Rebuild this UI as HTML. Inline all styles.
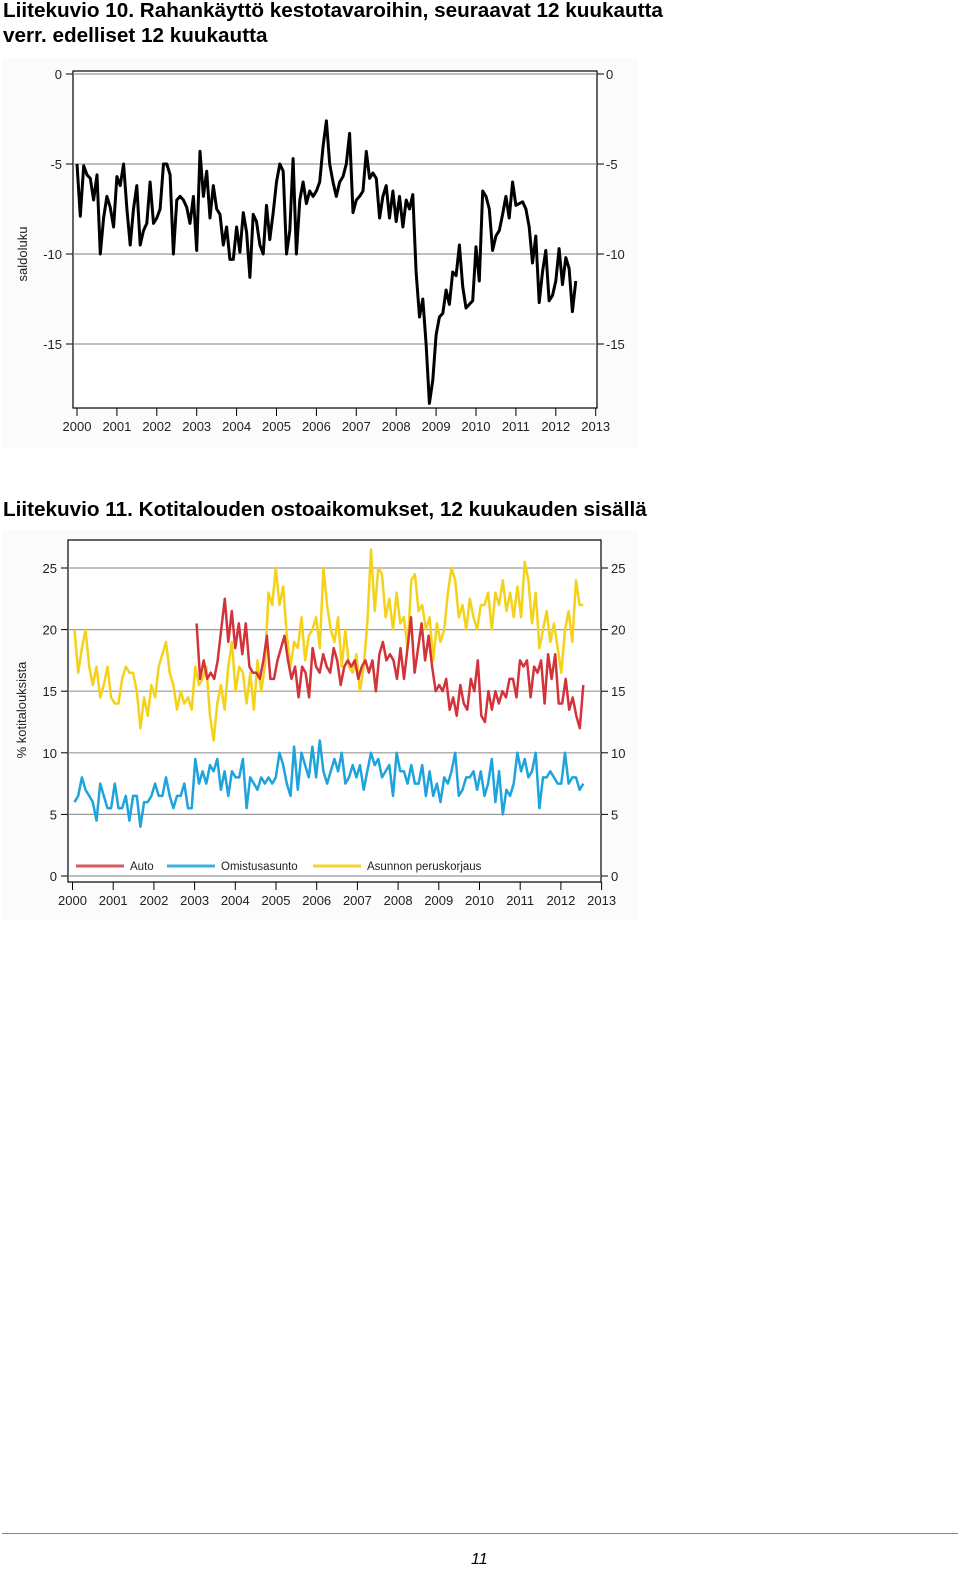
<!DOCTYPE html>
<html><head><meta charset="utf-8">
<style>
body{margin:0;background:#fff;width:960px;height:1572px;position:relative;overflow:hidden;font-family:"Liberation Sans",sans-serif}
.t{position:absolute;left:3px;font-weight:bold;font-size:20.7px;color:#000;line-height:25px;margin:0}
svg{position:absolute;left:0;top:0}
svg text{font-family:"Liberation Sans",sans-serif;fill:#222}
</style></head><body>
<h1 class="t" style="top:-2px">Liitekuvio 10. Rahankäyttö kestotavaroihin, seuraavat 12 kuukautta<br>verr. edelliset 12 kuukautta</h1>
<h1 class="t" style="top:497px">Liitekuvio 11. Kotitalouden ostoaikomukset, 12 kuukauden sisällä</h1>
<svg width="960" height="1572" id="s"></svg>
<div style="position:absolute;left:2px;top:1533px;width:956px;height:1px;background:#888"></div>
<div style="position:absolute;left:471px;top:1551px;font-style:italic;font-size:16px">11</div>
<script>
const years=[2000,2001,2002,2003,2004,2005,2006,2007,2008,2009,2010,2011,2012,2013];
const c1Ticks=[0,-5,-10,-15];
const c1Values=[-5.0,-7.9,-5.1,-5.6,-5.8,-7.0,-5.6,-10.0,-8.0,-6.8,-7.4,-8.5,
-5.7,-6.2,-5.0,-7.5,-9.5,-7.5,-6.2,-9.5,-8.7,-8.3,-6.0,-8.3,
-8.0,-7.5,-5.0,-5.0,-5.6,-10.0,-7.0,-6.8,-7.0,-7.4,-8.3,-6.8,
-9.8,-4.3,-6.8,-5.4,-8.0,-6.2,-7.5,-7.8,-9.5,-8.5,-10.3,-10.3,
-8.5,-9.9,-7.7,-8.8,-11.3,-7.8,-8.2,-9.5,-10.0,-7.3,-9.2,-7.7,
-6.0,-5.0,-5.4,-10.0,-8.7,-4.7,-10.0,-7.0,-6.0,-7.2,-6.5,-6.8,
-6.5,-6.0,-4.0,-2.6,-5.0,-6.0,-6.8,-6.0,-5.7,-5.0,-3.3,-7.7,
-7.0,-6.8,-6.5,-4.3,-5.8,-5.5,-5.8,-8.0,-6.8,-6.2,-8.0,-6.5,
-8.2,-6.8,-8.5,-7.0,-7.5,-6.7,-11.0,-13.5,-12.5,-15.0,-18.3,-17.0,
-14.5,-13.5,-13.3,-12.0,-12.8,-11.0,-11.2,-9.5,-11.8,-13.0,-12.8,-12.6,
-9.6,-11.5,-6.5,-6.8,-7.5,-9.8,-9.0,-8.7,-7.8,-6.8,-8.0,-6.0,
-7.3,-7.2,-7.1,-7.5,-8.5,-10.5,-9.0,-12.7,-11.0,-9.8,-12.6,-12.3,
-11.5,-9.7,-11.7,-10.2,-10.8,-13.2,-11.5];
const c1Start=2000.0, c1End=2012.5;
const c2Ticks=[0,5,10,15,20,25];
const autoValues=[20.5,16,17.5,16,16.5,16,17.5,20,22.5,19,21.5,18.5,20.5,18,20.5,17,16.5,16.5,16,17.5,19.5,16,16,17.5,18.5,19.5,17.5,16,17,14.5,17,16.5,14.5,18.5,17,16.5,18,17,16.5,18.5,17.5,15.5,17,17.5,17,17.5,16,
17,17.5,16.5,17.5,15,18,19,17.5,18,17.5,16,18.5,16,18.5,21,16.5,18.5,20.5,17.5,19.5,17,15,15.5,15,16,13.5,14.5,13,15.5,14,13.5,16,15,17.5,13,12.5,15,13.5,15,14,15,14.5,16,16,14.5,17.5,17,17.5,14.5,17,16.5,17.5,14,18,16,18,14,14,16,13.5,14.5,13,12,15.5];
const autoStart=2003.05, autoEnd=2012.55;
const ownValues=[6,6.5,8,7,6.5,6,4.5,7.5,6.5,5.5,5.5,7.5,5.5,5.5,6.5,4.5,6.5,6.5,4,6,6,6.5,7.5,6.5,6.5,8,6.5,5.5,6.5,6.5,7.5,5.5,5.5,9.5,7.5,8.5,7.5,9,8.5,9.5,7,8.5,6.5,8.5,8,8,9.5,5.5,8,7.5,7,8,7.5,8,7.5,8,10,9,7.5,6.5,10.5,7,10,9,8,10.5,8,11,8.5,7.5,8.5,9.5,8.5,10,7.5,
8,9,8,9,7,8.5,10,9,9.5,8,8.5,9,6.5,10,8.5,8.5,7.5,9,7.5,7.5,9,6.5,8.5,6.5,7.5,6,8,7.5,8.5,10,6.5,7,8,8,8.5,7,8.5,6.5,7.5,9.5,6,8.5,5,7,6.5,7.5,10,8.5,9.5,8,8.5,10,5.5,8,8,8.5,8,7.5,7.5,10,7.5,8,8,7,7.5];
const renoValues=[20,16.5,18.5,20,17,15.5,17,14.5,15.5,17,14.5,14,14,16,17,16.5,16.5,15,12,14.5,13,15.5,14.5,17,18,19,16.5,15.5,13.5,15,14,14.5,13.5,17,15.5,16,17,13,11,14,15.5,13.5,17,19,15,17,16.5,14,16.5,13.5,17.5,15,17,23,22,25,22,23.5,19.5,17,19,18.5,21,17.5,19.5,20,21,18.5,25,22,20,19,21,17,
20,17,16.5,18,15,17,20.5,26.5,21.5,25,24.5,21,22.5,20,23,20.5,21,18.5,24,24.5,21.5,22,20,21,17.5,20.5,19,20,23,25,24,21,22,20,22.5,21,20,22,22,23,20,23,22,24,21.5,23,21,23.5,21,25.5,24,20.5,23,18.5,20,21.5,19,20.5,18.5,16.5,20,21.5,19,24,22,22];
const c2Start=2000.05, c2End=2012.55;

const NS='http://www.w3.org/2000/svg', s=document.getElementById('s');
function mk(tag,at,parent){const e=document.createElementNS(NS,tag);for(const k in at)e.setAttribute(k,at[k]);(parent||s).appendChild(e);return e;}

// ---- Chart 1 ----
const g1=mk('g',{});


const x1=y=>77+39.9*(y-2000), y1=v=>74-18*v;
mk('rect',{x:2,y:58,width:636,height:390,fill:'#fbfbfb'},g1);
mk('rect',{x:73,y:71,width:524,height:337,fill:'#fff',stroke:'#000','stroke-width':1.2},g1);
c1Ticks.forEach(v=>{
 const gl=mk('line',{x1:73,x2:597,y1:y1(v),y2:y1(v),stroke:'#999','stroke-width':1.2},g1);
 
 
 mk('line',{x1:66,x2:73,y1:y1(v),y2:y1(v),stroke:'#000'},g1);
 mk('line',{x1:597,x2:604,y1:y1(v),y2:y1(v),stroke:'#000'},g1);
 const tl=mk('text',{x:62,y:y1(v)+5,'text-anchor':'end','font-size':13},g1);tl.textContent=v;
 
 
 const tr=mk('text',{x:606,y:y1(v)+5,'font-size':13},g1);tr.textContent=v;
 
 
});
years.forEach(yr=>{
 mk('line',{x1:x1(yr),x2:x1(yr),y1:408,y2:416,stroke:'#000'},g1);
 const t=mk('text',{x:x1(yr),y:431,'text-anchor':'middle','font-size':13},g1);t.textContent=yr;
 
 
});
const yt1=mk('text',{x:0,y:0,transform:'translate(27,254) rotate(-90)','text-anchor':'middle','font-size':13},g1);yt1.textContent='saldoluku';


function path(vals,st,en,xf,yf){const n=vals.length;return vals.map((v,i)=>(i?'L':'M')+xf(st+(en-st)*i/(n-1)).toFixed(1)+' '+yf(v).toFixed(1)).join('');}
const l1=mk('path',{d:path(c1Values,c1Start,c1End,x1,y1),fill:'none',stroke:'#000','stroke-width':3,'stroke-linejoin':'round'},g1);



// ---- Chart 2 ----
const g2=mk('g',{});


const x2=y=>72.5+40.7*(y-2000), y2=v=>876-12.32*v;
mk('rect',{x:2,y:530,width:636,height:390,fill:'#fbfbfb'},g2);
mk('rect',{x:68,y:540,width:533,height:342,fill:'#fff',stroke:'#000','stroke-width':1.2},g2);
c2Ticks.forEach(v=>{
 const gl=mk('line',{x1:68,x2:601,y1:y2(v),y2:y2(v),stroke:'#999','stroke-width':1.2},g2);
 
 
 mk('line',{x1:61,x2:68,y1:y2(v),y2:y2(v),stroke:'#000'},g2);
 mk('line',{x1:601,x2:608,y1:y2(v),y2:y2(v),stroke:'#000'},g2);
 const tl=mk('text',{x:57,y:y2(v)+5,'text-anchor':'end','font-size':13},g2);tl.textContent=v;
 
 
 const tr=mk('text',{x:611,y:y2(v)+5,'font-size':13},g2);tr.textContent=v;
 
 
});
years.forEach(yr=>{
 mk('line',{x1:x2(yr),x2:x2(yr),y1:882,y2:890,stroke:'#000'},g2);
 const t=mk('text',{x:x2(yr),y:905,'text-anchor':'middle','font-size':13},g2);t.textContent=yr;
 
 
});
const yt2=mk('text',{x:0,y:0,transform:'translate(26,710) rotate(-90)','text-anchor':'middle','font-size':13},g2);yt2.textContent='% kotitalouksista';


const lr=mk('path',{d:path(renoValues,c2Start,c2End,x2,y2),fill:'none',stroke:'#f5d21a','stroke-width':2.5,'stroke-linejoin':'round'},g2);


const la=mk('path',{d:path(autoValues,autoStart,autoEnd,x2,y2),fill:'none',stroke:'#d3333a','stroke-width':2.5,'stroke-linejoin':'round'},g2);


const lo=mk('path',{d:path(ownValues,c2Start,c2End,x2,y2),fill:'none',stroke:'#1ea3dc','stroke-width':2.5,'stroke-linejoin':'round'},g2);


const legendItems=[['Auto','#d65a5f',76],['Omistusasunto','#3fb0dd',167],['Asunnon peruskorjaus','#f3d531',313]];
legendItems.forEach(([lab,col,lx])=>{
 const lg=mk('g',{},g2);
 
 
 mk('line',{x1:lx,x2:lx+48,y1:866,y2:866,stroke:col,'stroke-width':3},lg);
 const t=mk('text',{x:lx+54,y:870,'font-size':11.5},lg);t.textContent=lab;
});
</script>
</body></html>
